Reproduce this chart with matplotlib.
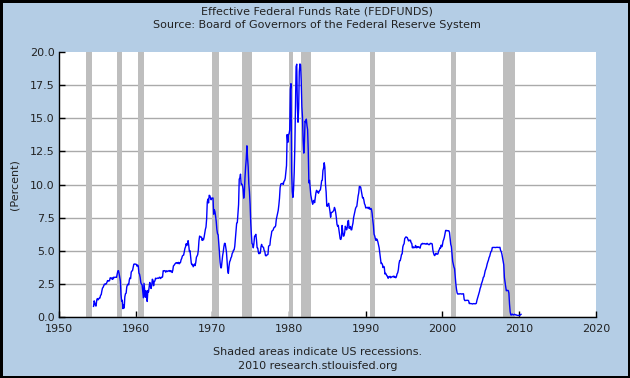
import matplotlib
matplotlib.use("Agg")
from matplotlib import pyplot as plt
import numpy as np

# monthly effective fed funds rate, Jul 1954 .. Apr 2010 (percent)
start_year = 1954
start_month = 7
fedfunds = [
    0.80, 1.22, 1.06, 0.85, 0.83, 1.28,  # 1954 (from Jul)
    1.39, 1.29, 1.35, 1.43, 1.43, 1.64, 1.68, 1.96, 2.18, 2.24, 2.35, 2.48,  # 1955
    2.45, 2.50, 2.50, 2.62, 2.75, 2.71, 2.75, 2.73, 2.95, 2.96, 2.88, 2.94,  # 1956
    2.84, 3.00, 2.96, 3.00, 3.00, 3.00, 2.99, 3.24, 3.47, 3.50, 3.28, 2.98,  # 1957
    2.72, 1.67, 1.20, 1.26, 0.63, 0.93, 0.68, 1.53, 1.76, 1.80, 2.27, 2.42,  # 1958
    2.48, 2.43, 2.80, 2.96, 2.90, 3.39, 3.47, 3.50, 3.76, 3.98, 4.00, 3.99,  # 1959
    3.99, 3.97, 3.84, 3.92, 3.85, 3.32, 3.23, 2.98, 2.60, 2.47, 2.44, 1.98,  # 1960
    1.45, 2.54, 2.02, 1.49, 1.98, 1.73, 1.17, 2.00, 1.88, 2.26, 2.61, 2.33,  # 1961
    2.15, 2.37, 2.85, 2.78, 2.36, 2.68, 2.71, 2.93, 2.90, 2.90, 2.94, 2.93,  # 1962
    2.92, 3.00, 2.98, 2.90, 3.00, 2.99, 3.02, 3.49, 3.48, 3.50, 3.48, 3.38,  # 1963
    3.48, 3.48, 3.43, 3.47, 3.50, 3.50, 3.42, 3.50, 3.45, 3.36, 3.52, 3.85,  # 1964
    3.90, 3.98, 4.04, 4.09, 4.10, 4.04, 4.09, 4.12, 4.01, 4.08, 4.10, 4.32,  # 1965
    4.42, 4.60, 4.65, 4.67, 4.90, 5.17, 5.30, 5.53, 5.40, 5.53, 5.76, 5.40,  # 1966
    4.94, 5.00, 4.53, 4.05, 3.94, 3.98, 3.79, 3.90, 3.99, 3.88, 4.13, 4.51,  # 1967
    4.60, 4.71, 5.05, 5.76, 6.11, 6.07, 6.02, 6.03, 5.78, 5.91, 5.82, 6.02,  # 1968
    6.30, 6.61, 6.79, 7.41, 8.67, 8.90, 8.61, 9.19, 9.15, 9.00, 8.85, 8.97,  # 1969
    8.98, 8.98, 7.76, 8.10, 7.95, 7.61, 7.21, 6.61, 6.29, 6.20, 5.60, 4.90,  # 1970
    4.14, 3.72, 3.71, 4.16, 4.63, 4.91, 5.31, 5.56, 5.55, 5.20, 4.91, 4.14,  # 1971
    3.50, 3.29, 3.83, 4.17, 4.27, 4.46, 4.55, 4.80, 4.87, 5.04, 5.06, 5.33,  # 1972
    5.94, 6.58, 7.09, 7.12, 7.84, 8.49, 10.40, 10.50, 10.78, 10.01, 10.03, 9.95,  # 1973
    9.65, 8.97, 9.35, 10.51, 11.31, 11.93, 12.92, 12.01, 11.34, 10.06, 9.45, 8.53,  # 1974
    7.13, 6.24, 5.54, 5.49, 5.22, 5.55, 6.10, 6.14, 6.24, 5.82, 5.22, 5.20,  # 1975
    4.87, 4.77, 4.84, 4.82, 5.29, 5.48, 5.31, 5.29, 5.25, 5.02, 4.95, 4.65,  # 1976
    4.61, 4.68, 4.69, 4.73, 5.35, 5.39, 5.42, 5.90, 6.14, 6.47, 6.51, 6.56,  # 1977
    6.70, 6.78, 6.79, 6.89, 7.36, 7.60, 7.81, 8.04, 8.45, 8.96, 9.76, 10.03,  # 1978
    10.07, 10.06, 10.09, 10.01, 10.24, 10.29, 10.47, 10.94, 11.43, 13.77, 13.18, 13.78,  # 1979
    13.82, 14.13, 17.19, 17.61, 10.98, 9.47, 9.03, 9.61, 10.87, 12.81, 15.85, 18.90,  # 1980
    19.08, 15.93, 14.70, 15.72, 18.52, 19.10, 19.04, 17.82, 15.87, 15.08, 13.31, 12.37,  # 1981
    13.22, 14.78, 14.68, 14.94, 14.45, 14.15, 12.59, 10.12, 10.31, 9.71, 9.20, 8.95,  # 1982
    8.68, 8.51, 8.77, 8.80, 8.63, 8.98, 9.37, 9.56, 9.45, 9.48, 9.34, 9.47,  # 1983
    9.56, 9.59, 9.91, 10.29, 10.32, 11.06, 11.23, 11.64, 11.30, 9.99, 9.43, 8.38,  # 1984
    8.35, 8.50, 8.58, 8.27, 7.97, 7.53, 7.88, 7.90, 7.92, 7.99, 8.05, 8.27,  # 1985
    8.14, 7.86, 7.48, 6.99, 6.85, 6.92, 6.56, 6.17, 5.89, 5.85, 6.04, 6.91,  # 1986
    6.43, 6.10, 6.13, 6.37, 6.85, 6.73, 6.58, 6.73, 7.22, 7.29, 6.69, 6.77,  # 1987
    6.83, 6.58, 6.58, 6.87, 7.09, 7.51, 7.75, 8.01, 8.19, 8.30, 8.35, 8.76,  # 1988
    9.12, 9.36, 9.85, 9.84, 9.81, 9.53, 9.24, 8.99, 9.02, 8.84, 8.55, 8.45,  # 1989
    8.23, 8.24, 8.28, 8.26, 8.18, 8.29, 8.15, 8.13, 8.20, 8.11, 7.81, 7.31,  # 1990
    6.91, 6.25, 6.12, 5.91, 5.78, 5.90, 5.82, 5.66, 5.45, 5.21, 4.81, 4.43,  # 1991
    4.03, 4.06, 3.98, 3.73, 3.82, 3.76, 3.25, 3.30, 3.22, 3.10, 3.09, 2.92,  # 1992
    3.02, 3.03, 3.07, 2.96, 3.00, 3.04, 3.06, 3.03, 3.09, 2.99, 3.02, 2.96,  # 1993
    3.05, 3.25, 3.34, 3.56, 4.01, 4.25, 4.26, 4.47, 4.73, 4.76, 5.29, 5.45,  # 1994
    5.53, 5.92, 5.98, 6.05, 6.01, 6.00, 5.85, 5.74, 5.80, 5.76, 5.80, 5.60,  # 1995
    5.56, 5.22, 5.31, 5.22, 5.24, 5.27, 5.40, 5.22, 5.30, 5.24, 5.31, 5.29,  # 1996
    5.25, 5.19, 5.39, 5.51, 5.50, 5.56, 5.52, 5.54, 5.54, 5.50, 5.52, 5.50,  # 1997
    5.56, 5.51, 5.49, 5.45, 5.49, 5.56, 5.54, 5.55, 5.51, 5.07, 4.83, 4.68,  # 1998
    4.63, 4.76, 4.81, 4.74, 4.74, 4.76, 4.99, 5.07, 5.22, 5.20, 5.42, 5.30,  # 1999
    5.45, 5.73, 5.85, 6.02, 6.27, 6.53, 6.54, 6.50, 6.52, 6.51, 6.51, 6.40,  # 2000
    5.98, 5.49, 5.31, 4.80, 4.21, 3.97, 3.77, 3.65, 3.07, 2.49, 2.09, 1.82,  # 2001
    1.73, 1.74, 1.73, 1.75, 1.75, 1.75, 1.73, 1.74, 1.75, 1.75, 1.34, 1.24,  # 2002
    1.24, 1.26, 1.25, 1.26, 1.26, 1.22, 1.01, 1.03, 1.01, 1.01, 1.00, 0.98,  # 2003
    1.00, 1.01, 1.00, 1.00, 1.00, 1.03, 1.26, 1.43, 1.61, 1.76, 1.93, 2.16,  # 2004
    2.28, 2.50, 2.63, 2.79, 3.00, 3.04, 3.26, 3.50, 3.62, 3.78, 4.00, 4.16,  # 2005
    4.29, 4.49, 4.59, 4.79, 4.94, 4.99, 5.24, 5.25, 5.25, 5.25, 5.25, 5.24,  # 2006
    5.25, 5.26, 5.26, 5.25, 5.25, 5.25, 5.26, 5.02, 4.94, 4.76, 4.49, 4.24,  # 2007
    3.94, 2.98, 2.61, 2.28, 1.98, 2.00, 2.01, 2.00, 1.81, 0.97, 0.39, 0.16,  # 2008
    0.15, 0.22, 0.18, 0.15, 0.18, 0.21, 0.16, 0.16, 0.15, 0.12, 0.12, 0.12,  # 2009
    0.11, 0.13, 0.16, 0.20,  # 2010 (to Apr)
]

# NBER recessions (start, end) as decimal years
recession_start = [1953.50, 1957.58, 1960.25, 1969.92, 1973.83, 1980.00, 1981.50, 1990.50, 2001.17, 2007.92]
recession_end = [1954.33, 1958.25, 1961.08, 1970.83, 1975.17, 1980.50, 1982.83, 1991.17, 2001.83, 2009.42]

x_ticks = [1950, 1960, 1970, 1980, 1990, 2000, 2010, 2020]
y_ticks = [0, 2.5, 5, 7.5, 10, 12.5, 15, 17.5, 20]

bg = "#b4cde5"
txt = "#222222"
fs = 8

months = np.arange(len(fedfunds))
dates = start_year + (start_month - 1) / 12 + months / 12

fig = plt.figure(figsize=(6.3, 3.78), dpi=100)
fig.patch.set_facecolor(bg)
fig.patch.set_edgecolor("black")
fig.patch.set_linewidth(2.5)

ax = fig.add_axes([0.0937, 0.1614, 0.852, 0.701])
ax.set_facecolor("white")

for s, e in zip(recession_start, recession_end):
    ax.axvspan(s, e, color="#bebebe", lw=0, zorder=1)

ax.plot(dates, fedfunds, color="#0000ff", lw=1, zorder=3)

ax.set_xlim(1950, 2020)
ax.set_ylim(0, 20)
ax.set_xticks(x_ticks)
ax.set_yticks(y_ticks)
ax.set_yticklabels(["%.1f" % v for v in y_ticks])
ax.yaxis.grid(True, color="#aaaaaa", lw=1)
ax.get_ygridlines()[-1].set_visible(False)
ax.set_axisbelow(True)

for side in ["top", "right"]:
    ax.spines[side].set_visible(False)
for side in ["left", "bottom"]:
    ax.spines[side].set_color("black")
    ax.spines[side].set_linewidth(1)
    ax.spines[side].set_zorder(4)

ax.tick_params(direction="in", length=4, width=1, colors="black",
               labelsize=fs, labelcolor=txt, pad=3)
ax.tick_params(axis="x", pad=5)

ax.set_ylabel("(Percent)", fontsize=fs, color=txt, labelpad=8)

fig.text(0.503, 0.970, "Effective Federal Funds Rate (FEDFUNDS)",
         ha="center", va="center", fontsize=fs, color=txt)
fig.text(0.503, 0.933, "Source: Board of Governors of the Federal Reserve System",
         ha="center", va="center", fontsize=fs, color=txt)
fig.text(0.504, 0.069, "Shaded areas indicate US recessions.",
         ha="center", va="center", fontsize=fs, color=txt)
fig.text(0.504, 0.032, "2010 research.stlouisfed.org",
         ha="center", va="center", fontsize=fs, color=txt)

fig.savefig("out.png", dpi=100)
